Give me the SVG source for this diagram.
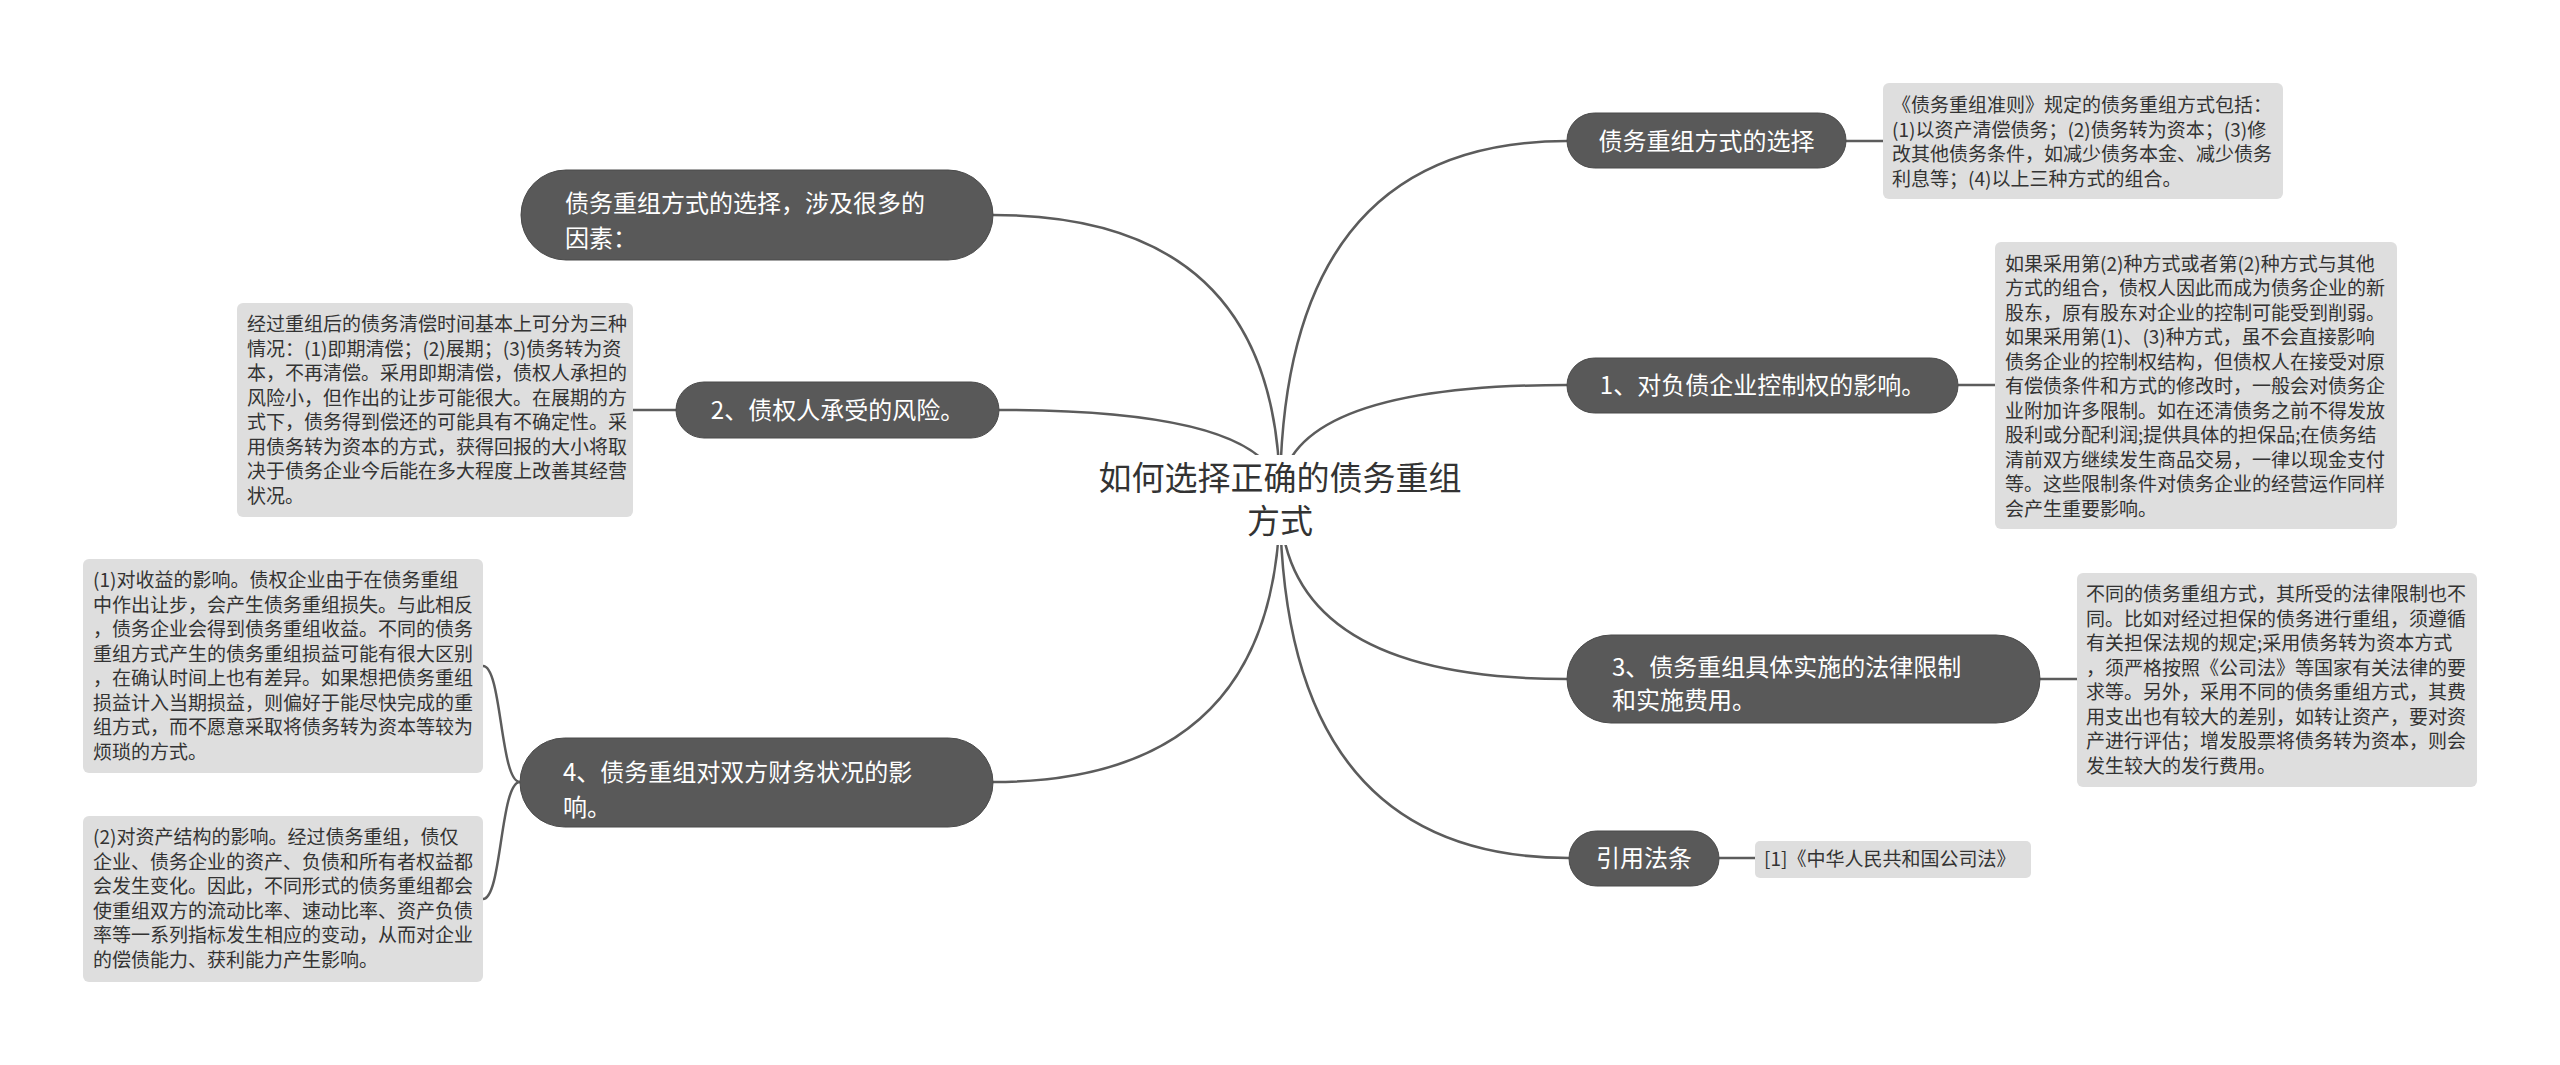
<svg xmlns="http://www.w3.org/2000/svg" width="2560" height="1065" viewBox="0 0 2560 1065">
<style>
.bg{fill:#ffffff}
.node rect{fill:#595959;stroke:#4a4a4a;stroke-width:1}
.node text{font-family:"Noto Sans CJK SC","Noto Sans",sans-serif;font-size:24px;fill:#ffffff}
.box rect{fill:#dedede;stroke:none}
.box text{font-family:"Noto Sans CJK SC","Noto Sans",sans-serif;font-size:19px;fill:#333333}
.root text{font-family:"Noto Sans CJK SC","Noto Sans",sans-serif;font-size:33px;fill:#333333}
.links path{fill:none;stroke:#5c5c5c;stroke-width:2.5}
</style>
<rect class="bg" x="0" y="0" width="2560" height="1065"/>
<g id="connectors" class="links">
<path d="M1280 498 Q1280 141 1567 141"/>
<path d="M1280 498 Q1280 385 1567 385"/>
<path d="M1280 498 Q1280 679 1567 679"/>
<path d="M1280 498 Q1280 858 1569 858"/>
<path d="M1280 498 Q1280 215 993 215"/>
<path d="M1280 498 Q1280 410 999 410"/>
<path d="M1280 498 Q1280 782 993 782"/>
<path d="M1846 141 L1883 141"/>
<path d="M1958 385 L1995 385"/>
<path d="M2040 679 L2077 679"/>
<path d="M1719 858 L1755 858"/>
<path d="M676 410 L633 410"/>
<path d="M520 782 C500 782 502 666 483 666"/>
<path d="M520 782 C500 782 502 899 483 899"/>
</g>
<g id="root" class="root">
<rect x="1090" y="455" width="380" height="90" fill="#ffffff"/>
<text x="1280" y="490" text-anchor="middle">如何选择正确的债务重组</text>
<text x="1280" y="533" text-anchor="middle">方式</text>
</g>
<g id="n-r1" class="node">
<rect x="1567" y="113" width="279" height="55" rx="27.5"/>
<text x="1706.5" y="150" text-anchor="middle">债务重组方式的选择</text>
</g>
<g id="b-r1" class="box">
<rect x="1883" y="83" width="400" height="116" rx="6"/>
<text x="1892" y="112">《债务重组准则》规定的债务重组方式包括：</text>
<text x="1892" y="136.5">(1)以资产清偿债务；(2)债务转为资本；(3)修</text>
<text x="1892" y="161">改其他债务条件，如减少债务本金、减少债务</text>
<text x="1892" y="185.5">利息等；(4)以上三种方式的组合。</text>
</g>
<g id="n-r2" class="node">
<rect x="1567" y="358" width="391" height="55" rx="27.5"/>
<text x="1762.5" y="394" text-anchor="middle">1、对负债企业控制权的影响。</text>
</g>
<g id="b-r2" class="box">
<rect x="1995" y="242" width="402" height="287" rx="6"/>
<text x="2005" y="270.5">如果采用第(2)种方式或者第(2)种方式与其他</text>
<text x="2005" y="295">方式的组合，债权人因此而成为债务企业的新</text>
<text x="2005" y="319.5">股东，原有股东对企业的控制可能受到削弱。</text>
<text x="2005" y="344">如果采用第(1)、(3)种方式，虽不会直接影响</text>
<text x="2005" y="368.5">债务企业的控制权结构，但债权人在接受对原</text>
<text x="2005" y="393">有偿债条件和方式的修改时，一般会对债务企</text>
<text x="2005" y="417.5">业附加许多限制。如在还清债务之前不得发放</text>
<text x="2005" y="442">股利或分配利润;提供具体的担保品;在债务结</text>
<text x="2005" y="466.5">清前双方继续发生商品交易，一律以现金支付</text>
<text x="2005" y="491">等。这些限制条件对债务企业的经营运作同样</text>
<text x="2005" y="515.5">会产生重要影响。</text>
</g>
<g id="n-r3" class="node">
<rect x="1567" y="635" width="473" height="88" rx="44"/>
<text x="1612" y="676">3、债务重组具体实施的法律限制</text>
<text x="1612" y="709">和实施费用。</text>
</g>
<g id="b-r3" class="box">
<rect x="2077" y="573" width="400" height="214" rx="6"/>
<text x="2086" y="601">不同的债务重组方式，其所受的法律限制也不</text>
<text x="2086" y="625.5">同。比如对经过担保的债务进行重组，须遵循</text>
<text x="2086" y="650">有关担保法规的规定;采用债务转为资本方式</text>
<text x="2086" y="674.5">，须严格按照《公司法》等国家有关法律的要</text>
<text x="2086" y="699">求等。另外，采用不同的债务重组方式，其费</text>
<text x="2086" y="723.5">用支出也有较大的差别，如转让资产，要对资</text>
<text x="2086" y="748">产进行评估；增发股票将债务转为资本，则会</text>
<text x="2086" y="772.5">发生较大的发行费用。</text>
</g>
<g id="n-r4" class="node">
<rect x="1569" y="831" width="150" height="55" rx="27.5"/>
<text x="1644" y="867" text-anchor="middle">引用法条</text>
</g>
<g id="b-r4" class="box">
<rect x="1755" y="841" width="276" height="37" rx="5"/>
<text x="1764" y="866">[1]《中华人民共和国公司法》</text>
</g>
<g id="n-l1" class="node">
<rect x="521" y="170" width="472" height="90" rx="45"/>
<text x="565" y="212">债务重组方式的选择，涉及很多的</text>
<text x="565" y="247">因素：</text>
</g>
<g id="n-l2" class="node">
<rect x="676" y="382" width="323" height="56" rx="28"/>
<text x="837.5" y="419" text-anchor="middle">2、债权人承受的风险。</text>
</g>
<g id="b-l2" class="box">
<rect x="237" y="303" width="396" height="214" rx="6"/>
<text x="247" y="331">经过重组后的债务清偿时间基本上可分为三种</text>
<text x="247" y="355.5">情况：(1)即期清偿；(2)展期；(3)债务转为资</text>
<text x="247" y="380">本，不再清偿。采用即期清偿，债权人承担的</text>
<text x="247" y="404.5">风险小，但作出的让步可能很大。在展期的方</text>
<text x="247" y="429">式下，债务得到偿还的可能具有不确定性。采</text>
<text x="247" y="453.5">用债务转为资本的方式，获得回报的大小将取</text>
<text x="247" y="478">决于债务企业今后能在多大程度上改善其经营</text>
<text x="247" y="502.5">状况。</text>
</g>
<g id="n-l3" class="node">
<rect x="520" y="738" width="473" height="89" rx="44.5"/>
<text x="563" y="781">4、债务重组对双方财务状况的影</text>
<text x="563" y="816">响。</text>
</g>
<g id="b-l3a" class="box">
<rect x="83" y="559" width="400" height="214" rx="6"/>
<text x="93" y="587">(1)对收益的影响。债权企业由于在债务重组</text>
<text x="93" y="611.5">中作出让步，会产生债务重组损失。与此相反</text>
<text x="93" y="636">，债务企业会得到债务重组收益。不同的债务</text>
<text x="93" y="660.5">重组方式产生的债务重组损益可能有很大区别</text>
<text x="93" y="685">，在确认时间上也有差异。如果想把债务重组</text>
<text x="93" y="709.5">损益计入当期损益，则偏好于能尽快完成的重</text>
<text x="93" y="734">组方式，而不愿意采取将债务转为资本等较为</text>
<text x="93" y="758.5">烦琐的方式。</text>
</g>
<g id="b-l3b" class="box">
<rect x="83" y="816" width="400" height="166" rx="6"/>
<text x="93" y="844">(2)对资产结构的影响。经过债务重组，债仅</text>
<text x="93" y="868.5">企业、债务企业的资产、负债和所有者权益都</text>
<text x="93" y="893">会发生变化。因此，不同形式的债务重组都会</text>
<text x="93" y="917.5">使重组双方的流动比率、速动比率、资产负债</text>
<text x="93" y="942">率等一系列指标发生相应的变动，从而对企业</text>
<text x="93" y="966.5">的偿债能力、获利能力产生影响。</text>
</g>
</svg>
